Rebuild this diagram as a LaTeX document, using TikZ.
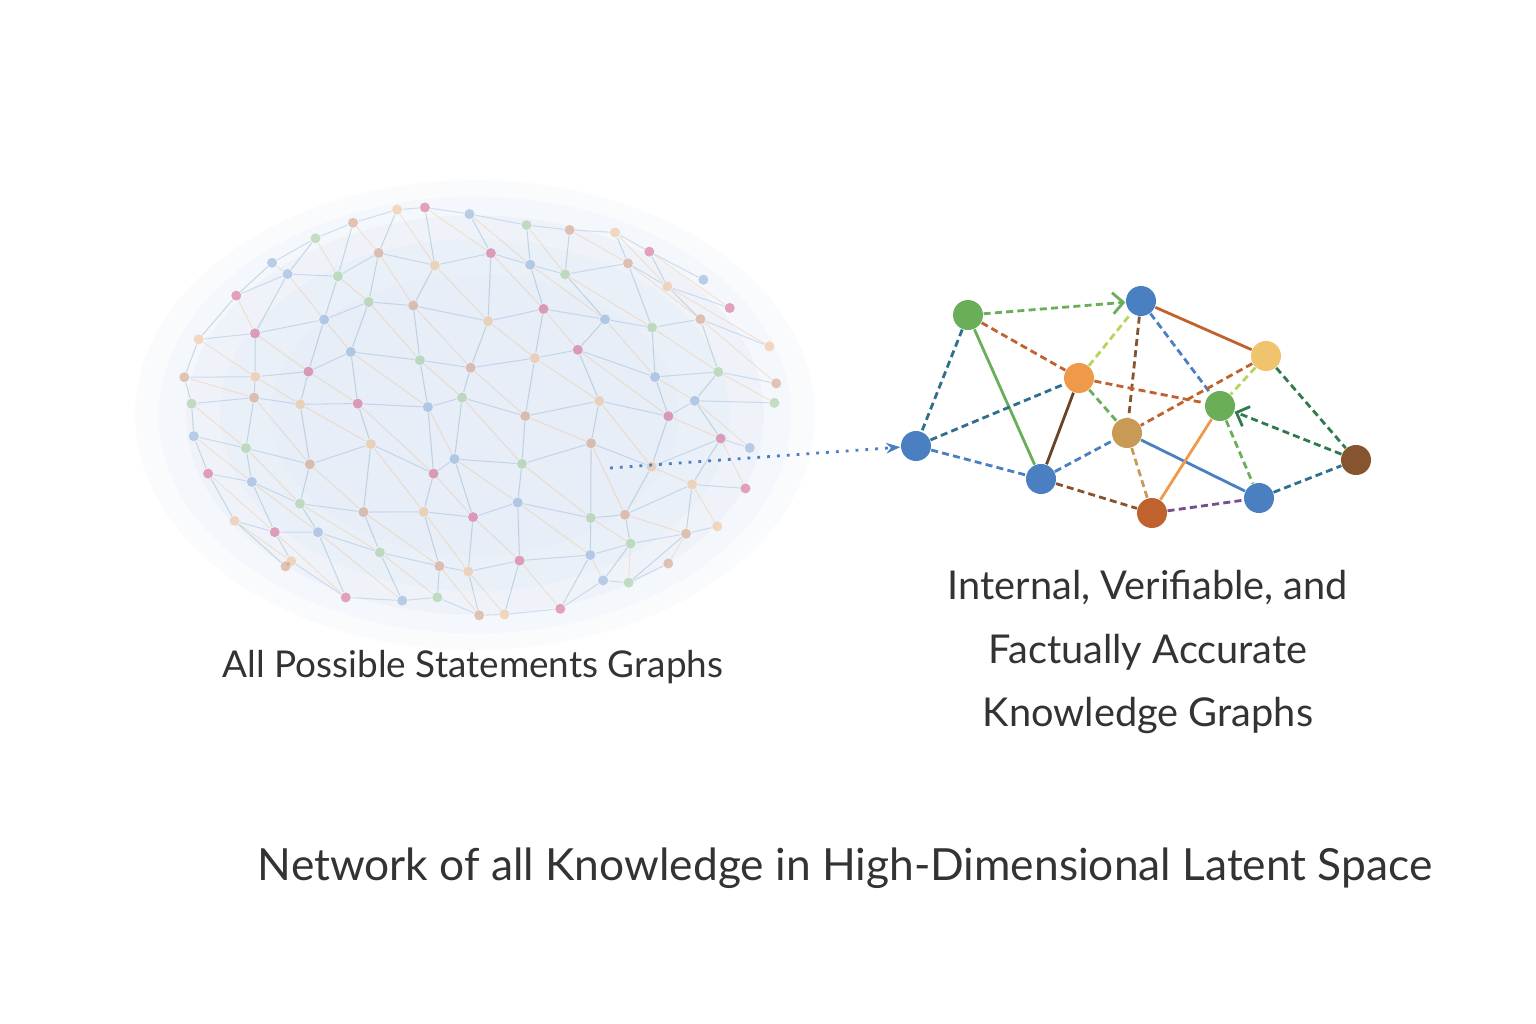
\documentclass[tikz,border=0pt]{standalone}
\usepackage{fontspec}
\setmainfont{Lato}
\usetikzlibrary{arrows.meta}
\definecolor{kgblue}{HTML}{4A7FC1}
\definecolor{kggreen}{HTML}{6AAE5A}
\definecolor{kgyellow}{HTML}{F0C46C}
\definecolor{kgorange}{HTML}{EE9A4A}
\definecolor{kgtan}{HTML}{C99A55}
\definecolor{kgrust}{HTML}{C0622D}
\definecolor{kgbrown}{HTML}{865530}
\definecolor{kgteal}{HTML}{2E6E8E}
\definecolor{kgdgreen}{HTML}{2F7A4E}
\definecolor{kglime}{HTML}{B8D45A}
\definecolor{txt}{HTML}{333333}
\tikzset{
  kg/.style={shape=circle, fill=#1, draw=none, minimum size=0.3cm, inner sep=0pt},
  dl/.style={dashed, dash pattern=on 2pt off 1.2pt, thick, draw=#1},
  sl/.style={thick, draw=#1},
  cl/.style={line width=0.3pt, draw=#1, opacity=0.22}
}
\begin{document}
\begin{tikzpicture}[x=0.01cm, y=-0.01cm]
\useasboundingbox (0,0) rectangle (1536,1024);
% cloud
\foreach \r/\o in {1.0/0.08, 0.93/0.1, 0.85/0.1, 0.75/0.1, 0.6/0.08}
  \fill[kgblue!35, opacity=\o] (475,415) ellipse ({340*\r*0.01cm} and {235*\r*0.01cm});
\pgfmathsetseed{11}
\foreach \row in {0,...,8} {
  \foreach \col in {0,...,10} {
    \pgfmathsetmacro\u{(\col-5)/5+0.07*rand}
    \pgfmathsetmacro\v{(\row-4)/4+0.08*rand}
    \pgfmathsetmacro\cx{475+300*\u*sqrt(max(0,1-\v*\v/2))}
    \pgfmathsetmacro\cy{410+200*\v*sqrt(max(0,1-\u*\u/2))}
    \pgfmathtruncatemacro\c{mod(\row*3+\col*7,5)}
    \ifcase\c \def\cc{kgblue}\or\def\cc{kgorange}\or\def\cc{kggreen}\or\def\cc{purple}\or\def\cc{kgrust}\fi
    \node[kg=\cc, minimum size=0.1cm, opacity=0.35] (p-\row-\col) at (\cx,\cy) {};
  }
}
\foreach \row in {0,...,8} {
  \foreach \col in {0,...,9} {
    \pgfmathtruncatemacro\nc{\col+1}
    \draw[cl=kgblue] (p-\row-\col) -- (p-\row-\nc);
  }
}
\foreach \row in {0,...,7} {
  \foreach \col in {0,...,9} {
    \pgfmathtruncatemacro\nr{\row+1}
    \pgfmathtruncatemacro\nc{\col+1}
    \draw[cl=kgteal] (p-\row-\col) -- (p-\nr-\col);
    \draw[cl=kgorange] (p-\row-\col) -- (p-\nr-\nc);
  }
}
\node[text=txt, font=\fontsize{10.5}{13}\selectfont] (cloudlab) at (473,667) {All Possible Statements Graphs};
% knowledge graph
\coordinate (src) at (610,468);
\coordinate[shift={(0,0)}] (dummy) at (0,0);
\path (968,315) coordinate (cA) (1141,301) coordinate (cB) (1266,356) coordinate (cC)
  (1079,378) coordinate (cD) (1220,406) coordinate (cE) (1127,433) coordinate (cF)
  (916,446) coordinate (cG) (1041,479) coordinate (cH) (1152,513) coordinate (cI)
  (1259,498) coordinate (cJ) (1356,460) coordinate (cK);
\node[kg=kggreen]  (gA) at (cA) {};
\node[kg=kgblue]   (bB) at (cB) {};
\node[kg=kgyellow] (yC) at (cC) {};
\node[kg=kgorange] (oD) at (cD) {};
\node[kg=kggreen]  (gE) at (cE) {};
\node[kg=kgtan]    (tF) at (cF) {};
\node[kg=kgblue]   (bG) at (cG) {};
\node[kg=kgblue]   (bH) at (cH) {};
\node[kg=kgrust]   (rI) at (cI) {};
\node[kg=kgblue]   (bJ) at (cJ) {};
\node[kg=kgbrown]  (kK) at (cK) {};
\draw[dl=kggreen, -{Straight Barb[length=3pt]}] (gA) -- (bB);
\draw[sl=kgrust] (bB) -- (yC);
\draw[dl=kgrust] (gA) -- (oD);
\draw[dl=kglime] (oD) -- (bB);
\draw[dl=kgbrown] (bB) -- (tF);
\draw[dl=kgblue] (bB) -- (gE);
\draw[dl=kgteal] (gA) -- (bG);
\draw[sl=kggreen] (gA) -- (bH);
\draw[dl=kgteal] (bG) -- (oD);
\draw[dl=kgblue] (bG) -- (bH);
\draw[sl=kgbrown!80!black] (oD) -- (bH);
\draw[dl=kggreen] (oD) -- (tF);
\draw[dl=kgrust] (oD) -- (gE);
\draw[dl=kgrust] (yC) -- (tF);
\draw[dl=kglime] (yC) -- (gE);
\draw[dl=kgdgreen] (yC) -- (kK);
\draw[dl=kgdgreen, -{Straight Barb[length=3pt]}] (kK) -- (gE);
\draw[dl=kgblue] (bH) -- (tF);
\draw[dl=kgbrown] (bH) -- (rI);
\draw[dl=kgtan] (tF) -- (rI);
\draw[sl=kgblue] (tF) -- (bJ);
\draw[sl=kgorange] (gE) -- (rI);
\draw[dl=kggreen] (gE) -- (bJ);
\draw[dl=kgblue!60!purple] (rI) -- (bJ);
\draw[dl=kgteal] (bJ) -- (kK);
\draw[kgblue, thick, dotted, -{Stealth[length=4pt]}] (src) -- (bG);
\node[text=txt, font=\fontsize{11.3}{18}\selectfont, align=center] (kglab) at (1148,652)
  {Internal, Verifiable, and\\Factually Accurate\\Knowledge Graphs};
\node[text=txt, font=\fontsize{12.6}{16}\selectfont] (title) at (845,868)
  {Network of all Knowledge in High-Dimensional Latent Space};
\end{tikzpicture}
\end{document}
